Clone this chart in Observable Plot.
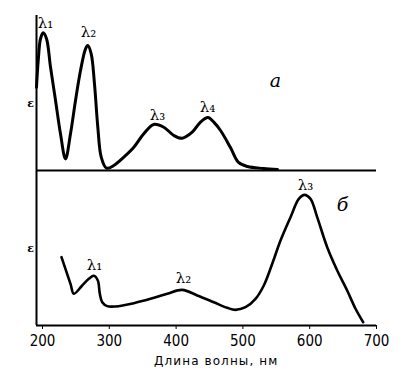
<!DOCTYPE html>
<html><head><meta charset="utf-8">
<script src="https://cdn.jsdelivr.net/npm/d3@7"></script>
<script src="https://cdn.jsdelivr.net/npm/@observablehq/plot@0.6"></script>
<style>
body{margin:0;background:#fff}
svg{display:block}
</style>
</head><body><div id="chart"></div>
<script>
// Panel identifiers
const panels = ["а", "б"];

// Panel а: wavelength (nm) and absorption ε (arbitrary units, 0–100)
const wavelengthA = [191, 193.6, 197, 201, 206, 212, 219.5, 226.9, 234.4, 241.9, 249.4, 256.9, 264.4, 267.8, 272.9, 277.8, 282.8, 287.9, 295.8, 306.7, 321.7, 336.7, 351.6, 366.6, 381.6, 396.6, 409.1, 424.1, 436.5, 447.8, 456.4, 466.5, 481.4, 493.4, 506.9, 530.8, 551.8];
const epsA = [53.7, 71, 85, 88.8, 85, 66.6, 45.2, 23.7, 7.5, 23.7, 45.2, 64.5, 78.5, 80.6, 75.3, 55.9, 27.9, 8.6, 1.5, 3.2, 8.6, 15, 23.7, 29.7, 27.9, 22.6, 20.8, 24.7, 31.2, 34.2, 31.2, 25.8, 14.8, 5.2, 2.6, 1.3, 0.6];

// Panel б
const wavelengthB = [228.4, 241.9, 246.9, 259.4, 269.3, 276.8, 282.8, 285.8, 289.4, 296.9, 309.3, 336.7, 361.7, 386.7, 409.1, 431.6, 456.4, 476.5, 488.9, 503.9, 518.9, 531.3, 543.9, 556.3, 571.3, 583.7, 592.2, 601.2, 611.2, 626.2, 641.2, 656.1, 668.6, 680.1];
const epsB = [44.1, 26.9, 20.5, 25.8, 30.1, 32.1, 29, 20.5, 15, 12.5, 12.3, 14.4, 17.2, 20.5, 23, 19.4, 15, 11.4, 10.1, 11.8, 17.2, 25.8, 39.8, 54.8, 69.9, 81.7, 84.3, 81.7, 69.9, 50.5, 35.5, 22.6, 10.8, 2.1];

// Tick labels
const tickValues = [200, 300, 400, 500, 600, 700];

// Peak labels
const peakText = ["λ₁", "λ₂", "λ₃", "λ₄", "λ₁", "λ₂", "λ₃"];
const peakNm = [204.5, 268.9, 372, 447, 277.8, 411, 593.7];
const peakEps = [95, 89, 35.5, 40.6, 38.7, 30.3, 90.3];
const peakPanel = ["а", "а", "а", "а", "б", "б", "б"];

// Panel letters
const letterText = ["а", "б"];
const letterNm = [548.8, 649];
const letterEps = [58, 78];

// ε axis labels
const epsLabelNm = [182, 182];
const epsLabelV = [43.2, 49.7];

const xLabel = "Длина волны, нм";
const xLabelNm = 460;

const dataA = wavelengthA.map((x, i) => ({x, y: epsA[i], panel: "а"}));
const dataB = wavelengthB.map((x, i) => ({x, y: epsB[i], panel: "б"}));
const peaks = peakText.map((t, i) => ({t, x: peakNm[i], y: peakEps[i], panel: peakPanel[i]}));
const letters = letterText.map((t, i) => ({t, x: letterNm[i], y: letterEps[i], panel: panels[i]}));
const epsLabels = panels.map((p, i) => ({t: "ε", x: epsLabelNm[i], y: epsLabelV[i], panel: p}));

const chart = Plot.plot({
  width: 404,
  height: 389,
  marginLeft: 36,
  marginRight: 28,
  marginTop: 15,
  marginBottom: 64,
  style: {fontFamily: "'DejaVu Sans Condensed', 'DejaVu Sans', sans-serif", fontSize: "15px", background: "white", color: "black"},
  x: {domain: [191, 700], ticks: tickValues, tickSize: 4, tickPadding: 6, label: null},
  y: {domain: [0, 100], axis: null},
  fy: {domain: panels, padding: 0, axis: null},
  marks: [
    Plot.ruleY([0], {stroke: "black", strokeWidth: 2}),
    Plot.ruleX([191], {stroke: "black", strokeWidth: 2}),
    Plot.line(dataA, {x: "x", y: "y", fy: "panel", curve: "catmull-rom", stroke: "black", strokeWidth: 3}),
    Plot.line(dataB, {x: "x", y: "y", fy: "panel", curve: "catmull-rom", stroke: "black", strokeWidth: 2.6}),
    Plot.text(peaks, {x: "x", y: "y", fy: "panel", text: "t", fontFamily: "'DejaVu Serif', serif", fontSize: 15, fill: "black"}),
    Plot.text(letters, {x: "x", y: "y", fy: "panel", text: "t", fontFamily: "'DejaVu Serif', serif", fontStyle: "italic", fontSize: 19, fill: "black"}),
    Plot.text(epsLabels, {x: "x", y: "y", fy: "panel", text: "t", fontFamily: "'DejaVu Serif', serif", fontWeight: "bold", fontSize: 11, fill: "black"}),
    Plot.text([{t: xLabel, x: xLabelNm, panel: "б"}], {x: "x", fy: "panel", text: "t", frameAnchor: "bottom", dy: 36, lineAnchor: "middle", fontFamily: "'DejaVu Sans', sans-serif", fontSize: 12, fill: "black"})
  ]
});
chart.querySelectorAll("text").forEach(t => {
  if (t.textContent === xLabel) t.style.letterSpacing = "1.1px";
});
document.getElementById("chart").append(chart);
</script>
</body></html>
